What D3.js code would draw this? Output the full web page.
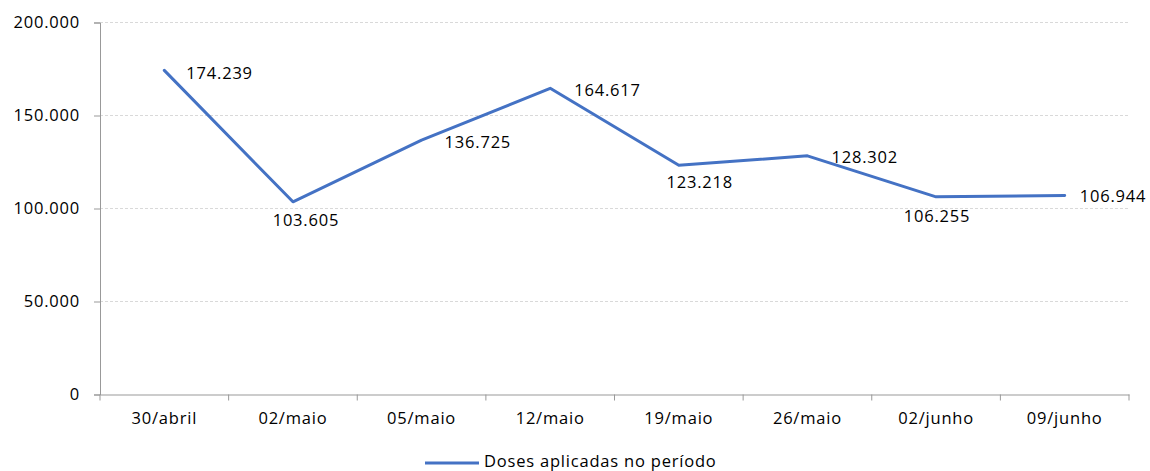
<!DOCTYPE html>
<html>
<head>
<meta charset="utf-8">
<script src="https://cdn.jsdelivr.net/npm/d3@7"></script>
<style>
  body { margin: 0; background: #fff; }
  text { font-family: "Open Sans", "DejaVu Sans", sans-serif; fill: #000; letter-spacing: 0.8px; }
</style>
</head>
<body>
<svg id="chart" width="1150" height="471"></svg>
<script>
// data
var dates = ["30/abril", "02/maio", "05/maio", "12/maio", "19/maio", "26/maio", "02/junho", "09/junho"];
var doses = [174239, 103605, 136725, 164617, 123218, 128302, 106255, 106944];
var yTicks = [0, 50000, 100000, 150000, 200000];
var seriesName = "Doses aplicadas no período";
// where each data label sits relative to its point (side, x shift, baseline shift)
var labelSide = ["right", "below", "right", "right", "below", "right", "below", "right"];
var labelDx = [22, 13, 23, 24, 21, 24, 1, 15];
var labelDy = [9, 24, 8, 8, 23, 7, 25, 6];

var svg = d3.select("#chart");
var plotL = 100, plotR = 1129, plotT = 22.5, plotB = 394.5;
var fs = "16.5px";
var fmt = function(v){ return d3.format(",")(v).replace(/,/g, "."); };

var x = d3.scaleBand().domain(dates).range([plotL, plotR]).padding(0);
var y = d3.scaleLinear().domain([0, 200000]).range([plotB, plotT]);

// gridlines
svg.append("g").selectAll("line")
    .data(yTicks.filter(function(d){ return d > 0; }))
    .enter().append("line")
    .attr("x1", plotL).attr("x2", plotR)
    .attr("y1", function(d){ return y(d); }).attr("y2", function(d){ return y(d); })
    .attr("stroke", "#d9d9d9").attr("stroke-width", 1).attr("stroke-dasharray", "3,2");

// y axis
var yAxis = svg.append("g").attr("transform", "translate(" + plotL + ",0)")
    .call(d3.axisLeft(y).tickValues(yTicks).tickSize(6).tickPadding(14).tickFormat(fmt));
yAxis.select(".domain").attr("stroke", "#999");
yAxis.selectAll(".tick line").attr("stroke", "#999");
yAxis.selectAll("text").attr("font-size", fs).attr("font-family", "Open Sans").attr("fill", "#000");

// x axis, ticks at category boundaries
var xAxis = svg.append("g").attr("transform", "translate(0," + plotB + ")")
    .call(d3.axisBottom(x).tickSize(0).tickPadding(18));
xAxis.select(".domain").attr("stroke", "#999");
xAxis.selectAll("text").attr("font-size", fs).attr("font-family", "Open Sans").attr("fill", "#000");
var bounds = dates.map(function(d){ return x(d); }).concat([plotR]);
xAxis.selectAll(".bound").data(bounds).enter().append("line")
    .attr("x1", function(d){ return d; }).attr("x2", function(d){ return d; })
    .attr("y1", 0).attr("y2", 6).attr("stroke", "#999");

// the series line
var cx = function(d, i){ return x(dates[i]) + x.bandwidth() / 2; };
var line = d3.line().x(cx).y(function(d){ return y(d); });
svg.append("path").datum(doses)
    .attr("d", line).attr("fill", "none")
    .attr("stroke", "#4472c4").attr("stroke-width", 3).attr("stroke-linejoin", "round").attr("stroke-linecap", "round");

// data labels
svg.append("g").selectAll("text").data(doses).enter().append("text")
    .attr("x", function(d, i){ return cx(d, i) + labelDx[i]; })
    .attr("y", function(d, i){ return y(d) + labelDy[i]; })
    .attr("text-anchor", function(d, i){ return labelSide[i] == "right" ? "start" : "middle"; })
    .attr("font-size", fs)
    .text(fmt);

// legend
svg.append("line").attr("x1", 425).attr("x2", 479).attr("y1", 463).attr("y2", 463)
    .attr("stroke", "#4472c4").attr("stroke-width", 3);
svg.append("text").attr("x", 484).attr("y", 467).attr("font-size", fs).text(seriesName);
</script>
</body>
</html>
